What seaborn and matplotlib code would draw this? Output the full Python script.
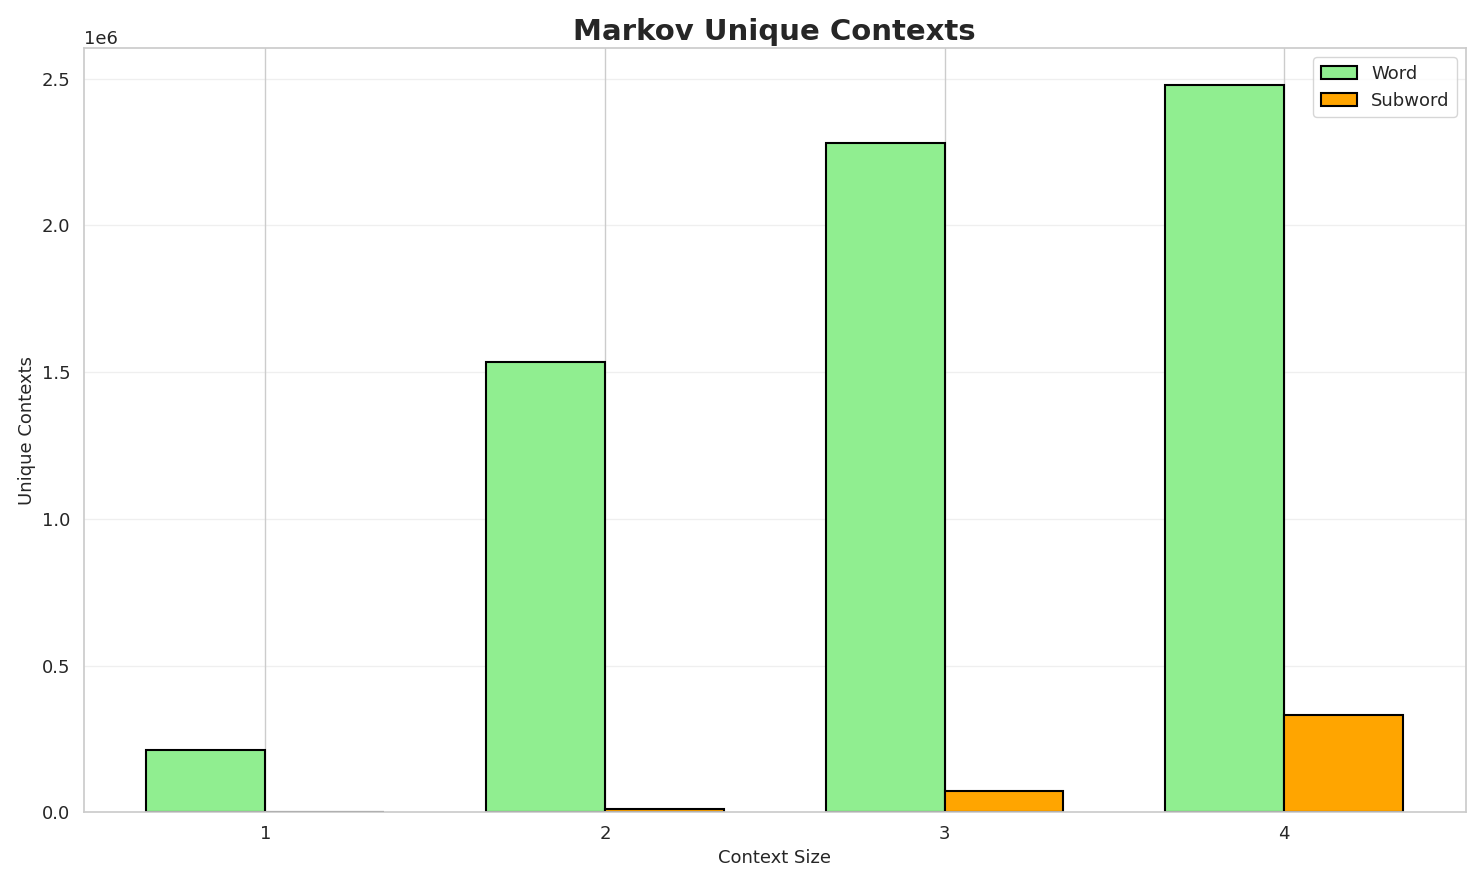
import numpy as np
import matplotlib
matplotlib.use("Agg")
import matplotlib.pyplot as plt
import seaborn as sns

context_sizes = [1, 2, 3, 4]
word_contexts = [211000, 1535000, 2282000, 2479000]
subword_contexts = [1200, 10000, 73000, 332000]

sns.set_theme(style="whitegrid")
plt.rcParams['font.family'] = ['DejaVu Sans']

fig, ax = plt.subplots(figsize=(14.84, 8.85), dpi=100)
x = np.array(context_sizes)
w = 0.35
ax.bar(x - w/2, word_contexts, w, label="Word", color="lightgreen", edgecolor="black", linewidth=1.5)
ax.bar(x + w/2, subword_contexts, w, label="Subword", color="orange", edgecolor="black", linewidth=1.5)
ax.set_xticks(x)
ax.set_xticklabels([str(c) for c in context_sizes], fontsize=13)
ax.tick_params(axis='y', labelsize=13)
ax.yaxis.get_offset_text().set_fontsize(13)
ax.set_xlabel("Context Size", fontsize=13)
ax.set_ylabel("Unique Contexts", fontsize=13)
ax.set_title("Markov Unique Contexts", fontsize=21, fontweight="bold")
ax.grid(axis='y', alpha=0.3)
ax.legend(loc="upper right", fontsize=13)
fig.tight_layout()
fig.savefig("out.png", dpi=100)
